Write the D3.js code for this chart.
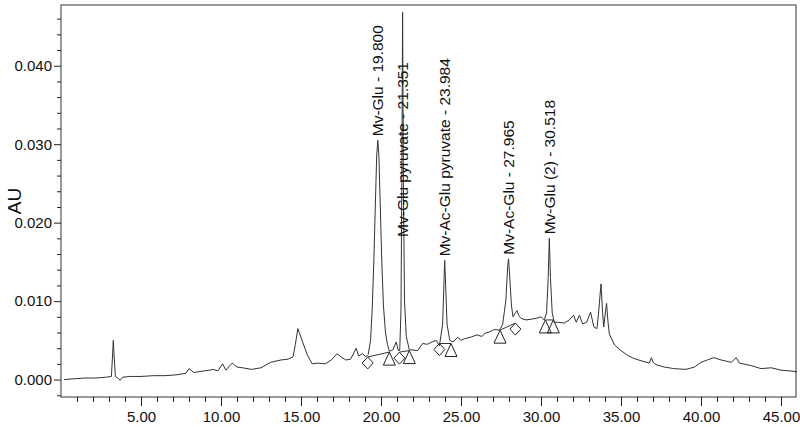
<!DOCTYPE html>
<html><head><meta charset="utf-8">
<script src="https://cdn.jsdelivr.net/npm/d3@7"></script>
<style>
html,body{margin:0;padding:0;background:#fff;}
svg{display:block;font-family:"Liberation Sans",Arial,sans-serif;}
</style></head>
<body><svg id="c" width="800" height="427"></svg>
<script>
// ---- data ----
const traceTimes = [0.2,0.8,1.5,2.2,2.8,3.15,3.22,3.27,3.32,3.40,3.55,3.7,3.85,4.3,5.0,5.8,6.5,7.2,7.8,8.0,8.3,8.9,9.3,9.5,9.8,10.1,10.3,10.7,11.0,11.35,11.9,12.5,13.1,13.75,14.2,14.5,14.65,14.8,15.1,15.4,15.7,16.04,16.5,16.9,17.25,17.5,17.8,18.1,18.45,18.6,18.85,19.06,19.2,19.35,19.45,19.55,19.65,19.73,19.8,19.87,19.95,20.05,20.15,20.28,20.4,20.52,20.75,20.95,21.08,21.17,21.25,21.30,21.35,21.40,21.47,21.58,21.77,22.3,22.6,22.9,23.2,23.45,23.65,23.85,23.93,23.98,24.04,24.13,24.3,24.5,24.8,25.0,25.2,25.6,26.0,26.3,26.5,26.8,27.1,27.4,27.6,27.8,27.92,27.97,28.05,28.15,28.25,28.4,28.5,28.6,28.75,29.06,29.4,29.7,30.0,30.2,30.35,30.45,30.52,30.59,30.7,30.83,31.1,31.45,31.77,32.04,32.2,32.4,32.6,32.85,33.1,33.3,33.5,33.62,33.75,33.85,33.92,34.05,34.1,34.18,34.27,34.6,35.0,35.4,35.8,36.25,36.77,36.9,37.0,37.2,37.7,38.3,39.06,39.6,40.0,40.4,40.8,41.25,41.9,42.2,42.4,43.1,43.75,44.4,45.0,45.6,46.0];
const traceValues = [0.0000,0.0001,0.0002,0.0002,0.0003,0.0004,0.0030,0.0050,0.0030,0.0004,0.0002,-0.0001,0.0003,0.0004,0.0004,0.0005,0.0005,0.0006,0.0008,0.0014,0.0009,0.0011,0.0012,0.0013,0.0011,0.0020,0.0012,0.0021,0.0016,0.0015,0.0013,0.0015,0.0022,0.0025,0.0026,0.0029,0.0045,0.0065,0.0048,0.0031,0.0020,0.0021,0.0020,0.0025,0.0033,0.0029,0.0025,0.0026,0.0040,0.0030,0.0033,0.0029,0.0032,0.0050,0.0090,0.0150,0.0225,0.0285,0.0305,0.0285,0.0225,0.0150,0.0095,0.0060,0.0045,0.0036,0.0038,0.0048,0.0037,0.0037,0.0090,0.0250,0.0468,0.0250,0.0100,0.0055,0.0038,0.0037,0.0046,0.0045,0.0048,0.0050,0.0043,0.0070,0.0120,0.0152,0.0120,0.0070,0.0050,0.0048,0.0054,0.0050,0.0052,0.0054,0.0057,0.0055,0.0059,0.0061,0.0064,0.0063,0.0070,0.0100,0.0145,0.0154,0.0130,0.0095,0.0080,0.0085,0.0088,0.0082,0.0078,0.0076,0.0077,0.0078,0.0080,0.0076,0.0085,0.0130,0.0180,0.0130,0.0085,0.0073,0.0073,0.0072,0.0076,0.0082,0.0073,0.0082,0.0071,0.0073,0.0086,0.0067,0.0065,0.0090,0.0122,0.0085,0.0067,0.0090,0.0097,0.0075,0.0058,0.0044,0.0037,0.0031,0.0027,0.0024,0.0021,0.0028,0.0022,0.0019,0.0016,0.0014,0.0013,0.0016,0.0022,0.0025,0.0028,0.0025,0.0022,0.0028,0.0021,0.0018,0.0014,0.0015,0.0012,0.0011,0.0010];

const peakNames = ["Mv-Glu","Mv-Glu pyruvate","Mv-Ac-Glu pyruvate","Mv-Ac-Glu","Mv-Glu (2)"];
const peakTimes = [19.800,21.351,23.984,27.965,30.518];
const peakApex = [0.0305,0.0468,0.0152,0.0154,0.0180];
const startTimes = [19.17,21.15,23.65,27.44,30.27];
const startValues = [0.00288,0.0035,0.00460,0.0063,0.0076];
const startMarks = ["diamond","diamond","diamond","triangle","triangle"];
const endTimes = [20.52,21.77,24.375,28.40,30.77];
const endValues = [0.0035,0.0037,0.0046,0.0072,0.0076];
const endMarks = ["triangle","triangle","triangle","diamond","triangle"];

const xMajorTicks = [5,10,15,20,25,30,35,40,45];
const yMajorTicks = [0,0.01,0.02,0.03,0.04];
const yLabel = "AU";

// ---- layout ----
const L=61, T=5, R=796, B=397;
const svg = d3.select("#c");
const x = d3.scaleLinear().domain([0,46]).range([L,797]);
const y = d3.scaleLinear().domain([-0.00222,0.04774]).range([B,T]);

// frame
svg.append("rect").attr("x",L).attr("y",T).attr("width",R-L).attr("height",B-T)
  .attr("fill","none").attr("stroke","#555").attr("stroke-width",1.2);

// x axis
const xMinor = d3.range(1,46).filter(d=>d%5!==0);
const gxm = svg.append("g").attr("transform",`translate(0,${B})`)
  .call(d3.axisBottom(x).tickValues(xMinor).tickSize(5).tickFormat(""));
const gx = svg.append("g").attr("transform",`translate(0,${B})`)
  .call(d3.axisBottom(x).tickValues(xMajorTicks).tickSize(9).tickPadding(5).tickFormat(d3.format(".2f")));
[gxm,gx].forEach(g=>{g.select(".domain").remove(); g.selectAll("line").attr("stroke","#222");});
gx.selectAll("text").attr("font-size",15).attr("fill","#111").attr("font-family","Liberation Sans, Arial, sans-serif");

// y axis
const yMinor = d3.range(-1,24).map(i=>i*0.002).filter(d=>Math.abs(Math.round(d*100)-d*100)>1e-6);
const gym = svg.append("g").attr("transform",`translate(${L},0)`)
  .call(d3.axisLeft(y).tickValues(yMinor).tickSize(4).tickFormat(""));
const gy = svg.append("g").attr("transform",`translate(${L},0)`)
  .call(d3.axisLeft(y).tickValues(yMajorTicks).tickSize(7).tickPadding(2).tickFormat(d3.format(".3f")));
[gym,gy].forEach(g=>{g.select(".domain").remove(); g.selectAll("line").attr("stroke","#222");});
gy.selectAll("text").attr("font-size",15).attr("fill","#111").attr("font-family","Liberation Sans, Arial, sans-serif");

svg.append("text").attr("transform",`translate(21,${(T+B)/2}) rotate(-90)`)
  .attr("text-anchor","middle").attr("font-size",19).attr("fill","#111").text(yLabel);

// trace
const pts = traceTimes.map((t,i)=>[t,traceValues[i]]);
svg.append("path").datum(pts)
  .attr("d",d3.line().x(d=>x(d[0])).y(d=>y(d[1])))
  .attr("fill","none").attr("stroke","#333").attr("stroke-width",1);

// integration baselines and markers
const sym = {diamond:(cx,cy)=>`M${cx},${cy}L${cx+5.5},${cy+6}L${cx},${cy+12}L${cx-5.5},${cy+6}Z`,
             triangle:(cx,cy)=>`M${cx},${cy}L${cx+6},${cy+13}L${cx-6},${cy+13}Z`};
peakTimes.forEach((p,i)=>{
  svg.append("line").attr("x1",x(startTimes[i])).attr("y1",y(startValues[i]))
    .attr("x2",x(endTimes[i])).attr("y2",y(endValues[i])).attr("stroke","#333").attr("stroke-width",1);
});
peakTimes.forEach((p,i)=>{
  svg.append("path").attr("d",sym[startMarks[i]](x(startTimes[i]),y(startValues[i])))
    .attr("fill","none").attr("stroke","#222").attr("stroke-width",1);
  svg.append("path").attr("d",sym[endMarks[i]](x(endTimes[i]),y(endValues[i])))
    .attr("fill","none").attr("stroke","#222").attr("stroke-width",1);
});

// peak labels
peakTimes.forEach((p,i)=>{
  const label = `${peakNames[i]} - ${d3.format(".3f")(p)}`;
  const t = svg.append("text").attr("font-size",15.5).attr("fill","#111").text(label);
  const len = t.node().getComputedTextLength();
  let ys = y(peakApex[i]) - 4;
  if (ys - len < T + 10) ys = T + 57 + len;
  t.attr("transform",`translate(${x(p)+5.5},${ys}) rotate(-90)`);
});
</script></body></html>
